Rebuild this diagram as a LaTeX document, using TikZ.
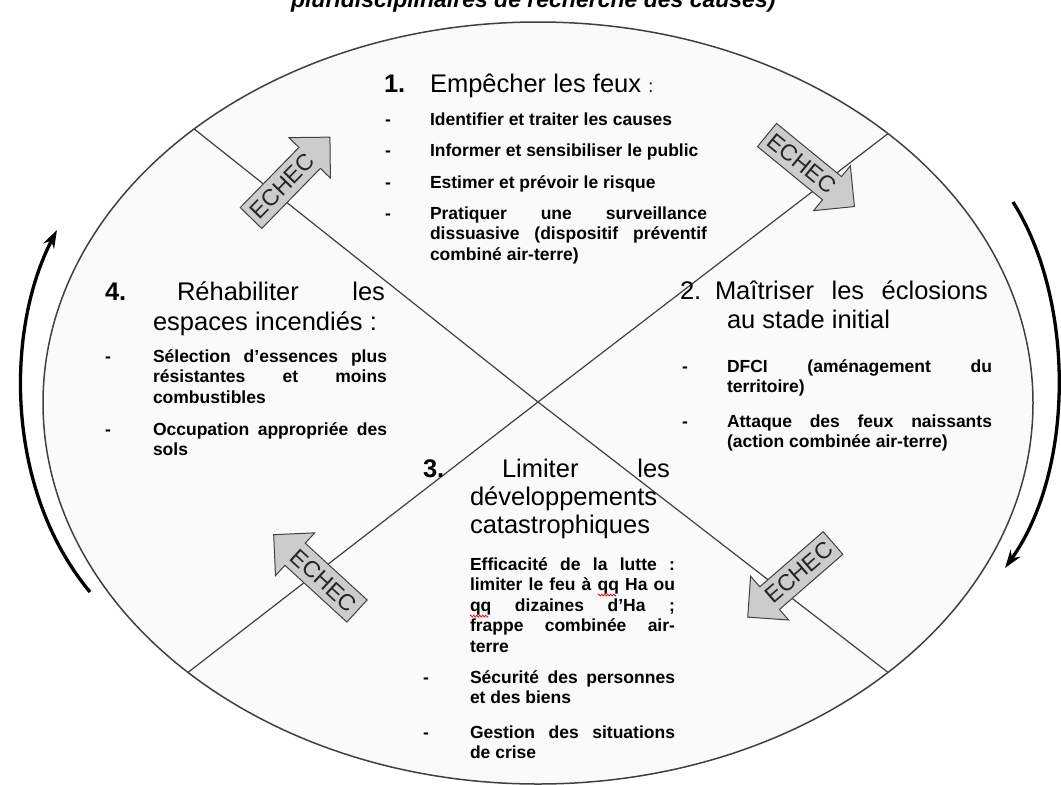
\documentclass[tikz,border=0pt]{standalone}
\usepackage{fontspec}
\setmainfont{Liberation Sans}
\usetikzlibrary{arrows.meta,decorations.pathmorphing}
\newcommand\J[1]{\makebox[\linewidth][s]{#1}}
\newcommand\bodyfnt{\bfseries\fontsize{17.5}{20.6}\selectfont}
\newcommand\headfnt{\fontsize{25.5}{29}\selectfont}
\newcommand\echecarrow[5]{%
  \begin{scope}[shift={(#1,#2)},rotate=#3]
    \draw[echecbox] (0,15) -- (84,15) -- (84,29) -- (113,0) -- (84,-29) -- (84,-15) -- (0,-15) -- cycle;
    \node[echectxt,rotate=#4] (#5) at (45,0) {ECHEC};
  \end{scope}}
\begin{document}
\begin{tikzpicture}[x=1pt,y=-1pt,
  txt/.style={inner sep=0pt,outer sep=0pt,anchor=base west,text=black},
  para/.style={txt,font=\bodyfnt},
  head/.style={txt,font=\headfnt},
  echecbox/.style={draw=black!75,line width=1pt,fill=black!20,line join=miter},
  echectxt/.style={inner sep=0pt,font=\fontsize{23}{25}\selectfont,text=black!85},
  oval/.style={draw=black!75,line width=1.5pt,fill=black!2},
  cross/.style={draw=black!75,line width=1.2pt},
  cycle arrow/.style={draw=black,line width=3.3pt,-{Stealth[length=18pt,width=12pt]}}]
\useasboundingbox[fill=white] (0,0) rectangle (1061,785);

% cut-off title
\node[txt,font=\bfseries\itshape\fontsize{23}{26}\selectfont] (title) at (291,7) {pluridisciplinaires de recherche des causes)};

% ellipse and cross
\draw[oval] (538,403) ellipse [x radius=495, y radius=381];
\coordinate (c) at (538,402);
\coordinate (tl) at ({538-495*cos(46)},{403-381*sin(46)});
\coordinate (tr) at ({538+495*cos(45)},{403-381*sin(45)});
\coordinate (bl) at ({538-495*cos(45)},{403+381*sin(45)});
\coordinate (br) at ({538+495*cos(45)},{403+381*sin(45)});
\draw[cross] (tl) -- (c) -- (br);
\draw[cross] (bl) -- (c) -- (tr);

% cycle arrows
\coordinate (la) at (90,592);
\coordinate (lb) at (57,230);
\coordinate (ra) at (1013,202);
\coordinate (rb) at (1005,568);
\draw[cycle arrow] (la) .. controls (5,490) and (5,330) .. (lb);
\draw[cycle arrow] (ra) .. controls (1075,300) and (1075,470) .. (rb);

% ECHEC arrows
\echecarrow{251}{218}{45.7}{45.7}{e1}
\echecarrow{767}{135}{-39.3}{-39.3}{e2}
\echecarrow{357}{611}{137.5}{-42.5}{e3}
\echecarrow{833}{543}{-139}{41}{e4}

% Section 1
\node[head] (n1) at (384,92) {\textbf{1.}};
\node[head] (h1) at (430,92) {Empêcher les feux {\fontsize{18}{20}\selectfont:}};
\node[para] (d11) at (385,125) {-};
\node[para] (t11) at (430,125) {Identifier et traiter les causes};
\node[para] (d12) at (385,156) {-};
\node[para] (t12) at (430,156) {Informer et sensibiliser le public};
\node[para] (d13) at (385,188) {-};
\node[para] (t13) at (430,188) {Estimer et prévoir le risque};
\node[para] (d14) at (385,219) {-};
\node[para] (t14) at (430,219) {\parbox[t]{277pt}{\bodyfnt\J{Pratiquer une surveillance}\\\J{dissuasive (dispositif préventif}\\combiné air-terre)}};

% Section 4
\node[head] (n4) at (105,300) {\textbf{4.}};
\node[head] (h4a) at (177,300) {\makebox[208pt][s]{Réhabiliter les}};
\node[head] (h4b) at (153,330) {espaces incendiés :};
\node[para] (d41) at (105,362) {-};
\node[para] (t41) at (153,362) {\parbox[t]{234pt}{\bodyfnt\J{Sélection d’essences plus}\\\J{résistantes et moins}\\combustibles}};
\node[para] (d42) at (105,435) {-};
\node[para] (t42) at (153,435) {\parbox[t]{234pt}{\bodyfnt\J{Occupation appropriée des}\\sols}};

% Section 2
\node[head] (n2) at (680,299) {2.};
\node[head] (h2a) at (715,299) {\makebox[273pt][s]{Maîtriser les éclosions}};
\node[head] (h2b) at (727,328) {au stade initial};
\node[para] (d21) at (682,372) {-};
\node[para] (t21) at (727,372) {\parbox[t]{265pt}{\bodyfnt\J{DFCI (aménagement du}\\territoire)}};
\node[para] (d22) at (682,427) {-};
\node[para] (t22) at (727,427) {\parbox[t]{265pt}{\bodyfnt\J{Attaque des feux naissants}\\(action combinée air-terre)}};

% Section 3
\node[head] (n3) at (423,477) {\textbf{3.}};
\node[head] (h3a) at (502,477) {\makebox[168pt][s]{Limiter les}};
\node[head] (h3b) at (470,505) {développements};
\node[head] (h3c) at (470,533) {catastrophiques};
\node[para] (t31) at (470,570) {\parbox[t]{205pt}{\bodyfnt\J{Efficacité de la lutte :}\\\J{limiter le feu à qq Ha ou}\\\J{qq dizaines d’Ha ;}\\\J{frappe combinée air-}\\terre}};
\node[para] (d32) at (423,683) {-};
\node[para] (t32) at (470,683) {\parbox[t]{205pt}{\bodyfnt\J{Sécurité des personnes}\\et des biens}};
\node[para] (d33) at (423,738) {-};
\node[para] (t33) at (470,738) {\parbox[t]{205pt}{\bodyfnt\J{Gestion des situations}\\de crise}};

% spell-check squiggles
\coordinate (q1a) at (598,595); \coordinate (q1b) at (616,595);
\coordinate (q2a) at (470,616); \coordinate (q2b) at (488,616);
\draw[red,line width=0.7pt,decorate,decoration={zigzag,segment length=3pt,amplitude=1pt}] (q1a) -- (q1b);
\draw[red,line width=0.7pt,decorate,decoration={zigzag,segment length=3pt,amplitude=1pt}] (q2a) -- (q2b);
\end{tikzpicture}
\end{document}
